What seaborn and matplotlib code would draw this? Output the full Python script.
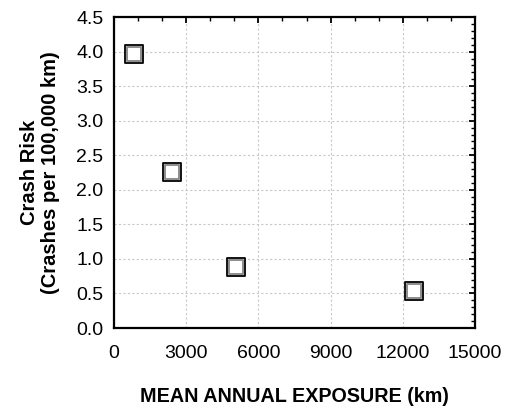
import matplotlib
matplotlib.use("Agg")
import matplotlib.pyplot as plt
from matplotlib.ticker import MultipleLocator
import seaborn as sns
import pandas as pd

exposure_km = [830, 2430, 5090, 12470]
crash_risk = [3.97, 2.26, 0.88, 0.53]
x_ticks = [0, 3000, 6000, 9000, 12000, 15000]
y_ticks = [0.0, 0.5, 1.0, 1.5, 2.0, 2.5, 3.0, 3.5, 4.0, 4.5]

df = pd.DataFrame({"x": exposure_km, "y": crash_risk})

sns.set_style("white")
plt.rcParams['font.family'] = ['Liberation Sans', 'DejaVu Sans']
plt.rcParams['text.color'] = 'black'
plt.rcParams['axes.labelcolor'] = 'black'

fig = plt.figure(figsize=(5.06, 4.07), dpi=100)
ax = fig.add_axes([0.2253, 0.194, 0.7134, 0.764])

sns.scatterplot(data=df, x="x", y="y", marker="s", s=150, color="white",
                edgecolor="black", linewidth=1.3, ax=ax, zorder=3)
sns.scatterplot(data=df, x="x", y="y", marker="s", s=105, color="white",
                edgecolor="#8c8c8c", linewidth=1.4, ax=ax, zorder=4)

ax.set_xlim(0, 15000)
ax.set_ylim(0, 4.5)
ax.set_xticks(x_ticks)
ax.set_yticks(y_ticks)
ax.set_xticklabels([str(t) for t in x_ticks])
ax.set_yticklabels([f"{t:.1f}" for t in y_ticks])
ax.xaxis.set_minor_locator(MultipleLocator(1000))
ax.yaxis.set_minor_locator(MultipleLocator(0.1))

ax.grid(True, which="major", color="#c8c8c8", linestyle=(0, (2, 2)), linewidth=0.8)
ax.set_axisbelow(True)

ax.tick_params(axis="both", which="major", direction="in", length=4.5, width=1.3,
               top=True, right=True, labelsize=14, colors="black")
ax.tick_params(axis="x", which="major", pad=12.5)
ax.tick_params(axis="y", which="major", pad=7.5)
ax.tick_params(axis="both", which="minor", direction="in", length=3, width=1.0,
               top=True, right=True, colors="black")
for sp in ax.spines.values():
    sp.set_visible(True)
    sp.set_color("black")
    sp.set_linewidth(1.6)

ax.set_xlabel("MEAN ANNUAL EXPOSURE (km)", fontsize=14.2, fontweight="bold",
              labelpad=18, color="black")
ax.set_ylabel("Crash Risk\n(Crashes per 100,000 km)", fontsize=14.5, fontweight="bold",
              color="black", linespacing=1.15)
ax.yaxis.set_label_coords(-0.15, 0.5)

fig.savefig("out.png", dpi=100)
